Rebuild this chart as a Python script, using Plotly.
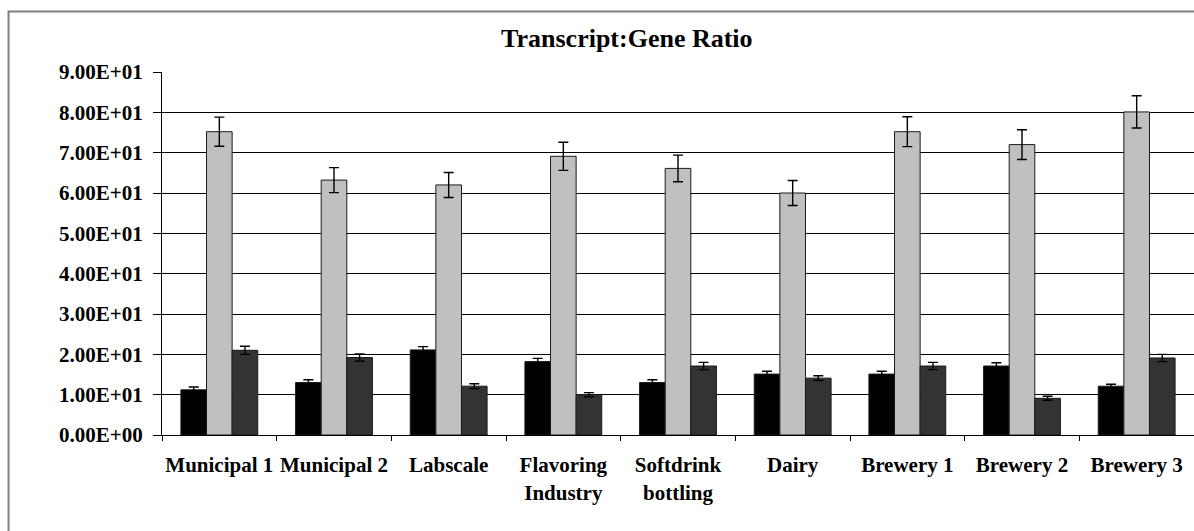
import plotly.graph_objects as go

categories = ['Municipal 1', 'Municipal 2', 'Labscale', 'Flavoring<br>Industry', 'Softdrink<br>bottling',
              'Dairy', 'Brewery 1', 'Brewery 2', 'Brewery 3']

series_a = [11.2, 13.0, 21.1, 18.2, 13.0, 15.1, 15.1, 17.1, 12.1]
series_a_err = [0.7, 0.7, 0.8, 0.8, 0.7, 0.7, 0.7, 0.8, 0.5]
series_b = [75.2, 63.2, 62.0, 69.1, 66.1, 60.0, 75.2, 72.0, 80.1]
series_b_err = [3.6, 3.1, 3.1, 3.5, 3.3, 3.1, 3.7, 3.7, 4.0]
series_c = [21.0, 19.2, 12.1, 10.0, 17.1, 14.1, 17.1, 9.1, 19.1]
series_c_err = [1.0, 0.9, 0.6, 0.5, 0.9, 0.6, 0.9, 0.5, 0.9]

y_tickvals = [0, 10, 20, 30, 40, 50, 60, 70, 80, 90]
y_ticktext = ['0.00E+00', '1.00E+01', '2.00E+01', '3.00E+01', '4.00E+01',
              '5.00E+01', '6.00E+01', '7.00E+01', '8.00E+01', '9.00E+01']

FONT = '"Liberation Serif", "Times New Roman", Times, serif'

fig = go.Figure()

for vals, errs, color in [(series_a, series_a_err, '#000000'),
                          (series_b, series_b_err, '#c0c0c0'),
                          (series_c, series_c_err, '#333333')]:
    fig.add_trace(go.Bar(x=categories,
                         y=vals,
                         marker=dict(color=color, line=dict(color='#1a1a1a', width=1)),
                         error_y=dict(type='data', array=errs, visible=True,
                                      color='#000000', thickness=1.4, width=5),
                         showlegend=False))

# grey frame round the chart area
fig.add_shape(type='rect', xref='paper', yref='paper',
              x0=-0.1487, x1=1.02, y0=-0.3, y1=1.1667,
              line=dict(color='#808080', width=2), fillcolor='rgba(0,0,0,0)', layer='below')

fig.update_layout(width=1194, height=531,
                  margin=dict(l=162, r=0, t=72, b=96, autoexpand=False),
                  paper_bgcolor='white', plot_bgcolor='white',
                  bargap=0.33, bargroupgap=0, barmode='group',
                  font=dict(family=FONT, color='#000000', size=21),
                  title=dict(text='<b>Transcript:Gene Ratio</b>', x=0.525, xanchor='center',
                             y=0.928, yanchor='middle', font=dict(family=FONT, size=26, color='#000000')),
                  xaxis=dict(showgrid=False, showline=True, linecolor='#000000', linewidth=1,
                             ticks='outside', tickson='boundaries', ticklen=5, tickcolor='#000000',
                             ticklabelstandoff=11, tickangle=0, automargin=False,
                             tickfont=dict(family=FONT, size=21, weight='bold')),
                  yaxis=dict(range=[0, 90], tickvals=y_tickvals, ticktext=y_ticktext,
                             showgrid=True, gridcolor='#000000', gridwidth=1,
                             showline=True, linecolor='#000000', linewidth=1,
                             zeroline=False, automargin=False,
                             ticks='outside', ticklen=8, tickcolor='#000000',
                             ticklabelstandoff=6,
                             tickfont=dict(family=FONT, size=21, weight='bold')))

# drop the default page margin so the figure sits at the top-left corner
fig.write_html('out.html',
               config={'displayModeBar': False},
               post_script="document.body.style.margin='0';document.body.style.overflow='hidden';")
